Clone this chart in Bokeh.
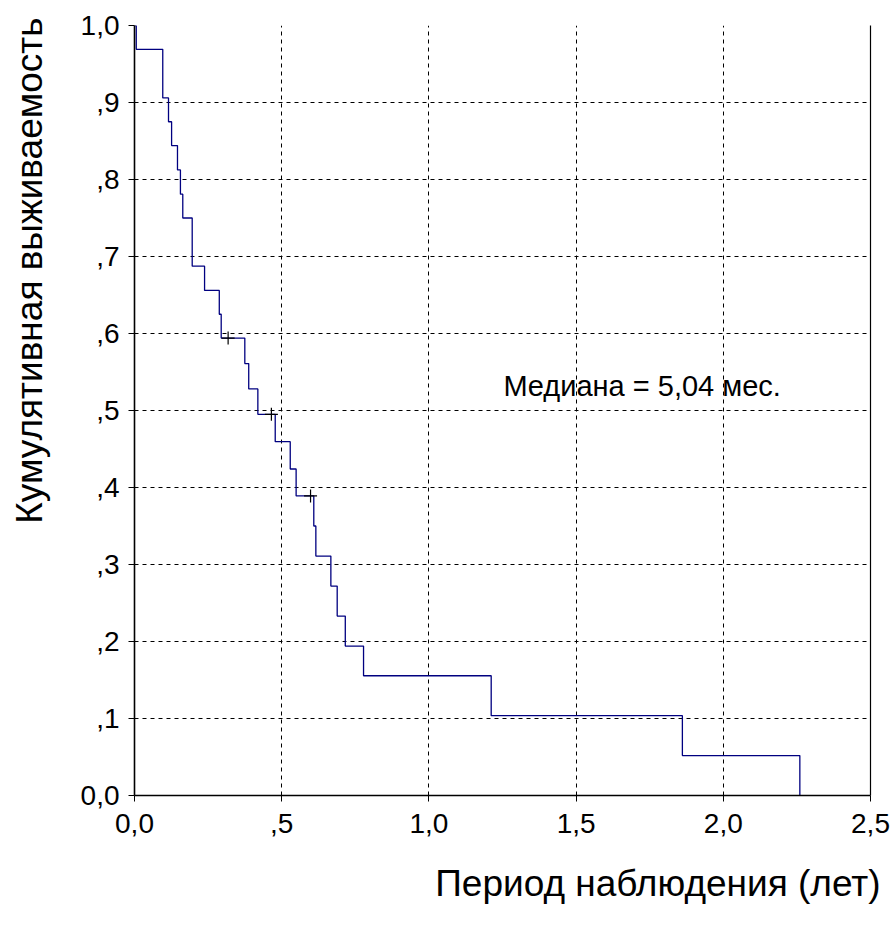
from bokeh.plotting import figure
from bokeh.models import Range1d, FixedTicker, Label, LinearAxis, Title
from bokeh.embed import file_html
from bokeh.resources import INLINE

# Kaplan-Meier step data (years, cumulative survival)
times = [0.0, 0.006, 0.096, 0.1155, 0.126, 0.146, 0.156, 0.164, 0.196, 0.238,
         0.288, 0.2945, 0.3747, 0.388, 0.419, 0.478, 0.529, 0.549, 0.609, 0.616,
         0.667, 0.6885, 0.716, 0.778, 1.2116, 1.861, 2.26]
survival = [1.0, 0.969, 0.906, 0.875, 0.844, 0.8125, 0.781, 0.75, 0.6875, 0.656,
            0.625, 0.594, 0.561, 0.528, 0.495, 0.4595, 0.424, 0.389, 0.350, 0.311,
            0.272, 0.233, 0.194, 0.1555, 0.1037, 0.0518, 0.0]
# censored observations
cens_t = [0.318, 0.465, 0.598]
cens_s = [0.594, 0.495, 0.389]

x_ticks = [0.0, 0.5, 1.0, 1.5, 2.0, 2.5]
x_tick_labels = ["0,0", ",5", "1,0", "1,5", "2,0", "2,5"]
y_ticks = [0.0, 0.1, 0.2, 0.3, 0.4, 0.5, 0.6, 0.7, 0.8, 0.9, 1.0]
y_tick_labels = ["0,0", ",1", ",2", ",3", ",4", ",5", ",6", ",7", ",8", ",9", "1,0"]

x_title = "Период наблюдения (лет)"
y_title = "Кумулятивная выживаемость"
median_text = "Медиана = 5,04 мес."

FONT = "Liberation Sans"

W, H = 893, 937
p = figure(width=W, height=H, output_backend="svg", toolbar_location=None,
           x_range=Range1d(0, 2.5), y_range=Range1d(0, 1.0),
           min_border_left=134, min_border_right=W - 870, min_border_top=25,
           min_border_bottom=H - 795)
p.outline_line_color = None
p.background_fill_color = "white"
p.border_fill_color = "white"

for ax, ticks, labels in ((p.xaxis[0], x_ticks, x_tick_labels), (p.yaxis[0], y_ticks, y_tick_labels)):
    ax.ticker = FixedTicker(ticks=ticks)
    ax.major_label_overrides = {t: l for t, l in zip(ticks, labels)}
    ax.major_label_text_font = FONT
    ax.major_label_text_font_size = "28px"
    ax.major_label_text_color = "black"
    ax.axis_line_color = "black"
    ax.axis_line_width = 1.6
    ax.major_tick_line_color = "black"
    ax.major_tick_out = 6
    ax.major_tick_in = 0
    ax.minor_tick_line_color = None
p.xaxis[0].major_label_standoff = 12
p.yaxis[0].major_label_standoff = 9

right_ax = LinearAxis(ticker=FixedTicker(ticks=[]), major_label_text_font_size="0px",
                      axis_line_color="black", axis_line_width=1.2,
                      major_tick_line_color=None, minor_tick_line_color=None)
p.add_layout(right_ax, "right")

# invisible spacer between the y tick labels and the y title
spacer = LinearAxis(ticker=FixedTicker(ticks=[0.5]), major_label_overrides={0.5: ""},
                    major_label_text_font_size="0px",
                    major_label_standoff=0, major_tick_out=24, major_tick_in=0,
                    minor_tick_out=0, minor_tick_in=0,
                    axis_line_color=None, major_tick_line_color=None,
                    minor_tick_line_color=None)
p.add_layout(spacer, "left")

p.xgrid.ticker = FixedTicker(ticks=x_ticks[1:-1])
p.ygrid.ticker = FixedTicker(ticks=y_ticks[1:])
for g in (p.xgrid[0], p.ygrid[0]):
    g.grid_line_color = "black"
    g.grid_line_dash = "4 4"
    g.grid_line_width = 1

p.step(times, survival, mode="after", line_color="#000080", line_width=1.3)
p.scatter(cens_t, cens_s, marker="cross", size=13, line_color="black", line_width=1.2)

p.add_layout(Label(x=1.253, y=0.532, text=median_text, text_font=FONT,
                   text_font_size="29px", text_baseline="middle", text_align="left",
                   text_color="black"))

xt = Title(text=x_title, align="right", offset=-10, standoff=51, text_font=FONT,
           text_font_size="37px", text_font_style="normal", text_color="black")
p.add_layout(xt, "below")
yt = Title(text=y_title, align="right", offset=-8, standoff=8, text_font=FONT,
           text_font_size="37px", text_font_style="normal", text_color="black")
p.add_layout(yt, "left")

open("out.html", "w").write(file_html(p, INLINE))
